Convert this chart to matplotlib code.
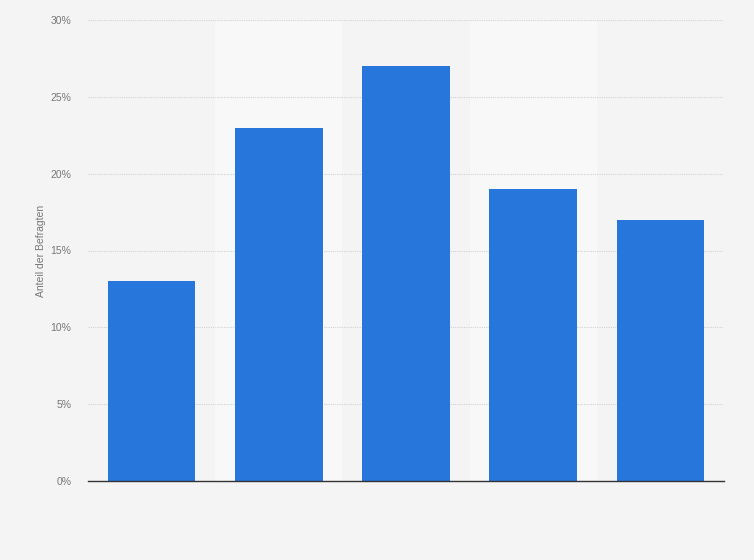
import matplotlib
matplotlib.use("Agg")
import matplotlib.pyplot as plt
from matplotlib.ticker import FuncFormatter

plt.rcParams["font.family"] = ["Liberation Sans", "DejaVu Sans"]

categories = ["1", "2", "3", "4", "5"]
values = [13, 23, 27, 19, 17]
yticks = [0, 5, 10, 15, 20, 25, 30]

W, H = 754, 560
fig = plt.figure(figsize=(W/100, H/100), dpi=100, facecolor="#f4f4f4")
ax = fig.add_axes([88/W, 1-481/H, (724-88)/W, (481-20)/H])
ax.set_facecolor("#f4f4f4")

x = list(range(len(categories)))
for i in x:
    if i % 2 == 1:
        ax.axvspan(i-0.5, i+0.5, color="#f8f8f8", zorder=0, lw=0)

ax.bar(x, values, width=0.69, color="#2776dc", zorder=3)
ax.set_xlim(-0.5, len(categories)-0.5)
ax.set_ylim(0, 30)
ax.set_yticks(yticks)
ax.yaxis.set_major_formatter(FuncFormatter(lambda v, p: f"{int(v)}%"))
ax.grid(axis="y", color="#d2d2d2", linestyle=(0, (1, 1)), linewidth=0.8, zorder=1)
ax.set_xticks([])
for s in ["top", "right", "left"]:
    ax.spines[s].set_visible(False)
ax.spines["bottom"].set_color("#333333")
ax.spines["bottom"].set_linewidth(1.0)
ax.spines["bottom"].set_zorder(4)
ax.tick_params(axis="y", length=0, pad=12, labelsize=7.5, labelcolor="#777777")
ax.set_ylabel("Anteil der Befragten", fontsize=7.5, color="#777777")
ax.yaxis.set_label_coords((46-88)/636, 0.5)

fig.savefig("out.png", dpi=100, facecolor=fig.get_facecolor())
